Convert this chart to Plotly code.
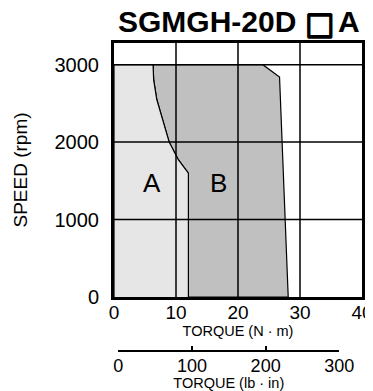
import plotly.graph_objects as go

# Region A boundary (torque N·m, speed rpm)
a_torque = [0, 0, 6.3, 6.4, 6.9, 7.7, 8.9, 10.0, 10.4, 12.0, 12.0]
a_speed = [0, 3000, 3000, 2800, 2550, 2330, 2000, 1830, 1770, 1600, 0]
# Region B right boundary
b_right_torque = [24.0, 26.7, 28.1]
b_right_speed = [3000, 2840, 0]

x_ticks = [0, 10, 20, 30, 40]
y_ticks = [0, 1000, 2000, 3000]
lb_ticks = [0, 100, 200, 300]

OFF = 8  # browser body margin
W, H = 373, 391 - OFF
L = 114 - OFF
T = 43 - OFF
R = W - (362 - OFF)
B = H - (350 - OFF)
pw = W - L - R
ph = H - T - B
def px2x(px):
    return (px - OFF - L) / pw
def py2y(py):
    return (H - B - (py - OFF)) / ph

fig = go.Figure()

curve_t = a_torque[2:]
curve_s = a_speed[2:]
b_poly_t = curve_t[::-1] + b_right_torque + [curve_t[-1]]
b_poly_s = curve_s[::-1] + b_right_speed + [curve_s[-1]]

fig.add_trace(go.Scatter(x=b_poly_t, y=b_poly_s, fill="toself", fillcolor="#c0c0c0",
                         mode="lines", line=dict(color="black", width=1.2), hoverinfo="skip",
                         showlegend=False))
fig.add_trace(go.Scatter(x=a_torque, y=a_speed, fill="toself", fillcolor="#e6e6e6",
                         mode="lines", line=dict(color="black", width=1.2), hoverinfo="skip",
                         showlegend=False))
# trace for the lb·in scale (own thin subplot at the bottom)
fig.add_trace(go.Scatter(x=[lb_ticks[0], lb_ticks[-1]], y=[None, None], xaxis="x2", yaxis="y2",
                         mode="lines", showlegend=False, hoverinfo="skip"))

ydom0 = py2y(297)

shapes = []
for xv in x_ticks[1:-1]:
    shapes.append(dict(type="line", xref="x", yref="y domain", x0=xv, x1=xv, y0=0, y1=1,
                       line=dict(color="black", width=1.5), layer="above"))
for yv in y_ticks[1:]:
    shapes.append(dict(type="line", xref="x domain", yref="y", x0=0, x1=1, y0=yv, y1=yv,
                       line=dict(color="black", width=1.5), layer="above"))

fig.update_layout(
    width=W, height=H, margin=dict(l=L, r=R, t=T, b=B, autoexpand=False),
    paper_bgcolor="white", plot_bgcolor="rgba(0,0,0,0)",
    font=dict(family="Liberation Sans, Arial, sans-serif", color="black"),
    shapes=shapes,
    xaxis=dict(range=[0, 40], tickvals=x_ticks, showgrid=False, zeroline=False, automargin=False,
               showline=True, linewidth=3, linecolor="black", mirror=True,
               ticks="", tickfont=dict(size=19), layer="above traces",
               ticklabeloverflow="allow", ticklabelstandoff=-4,
               title=dict(text="TORQUE (N · m)", font=dict(size=14.5), standoff=0)),
    yaxis=dict(range=[0, 3280], tickvals=y_ticks, showgrid=False, zeroline=False, automargin=False,
               domain=[ydom0, 1], ticklabelstandoff=8,
               showline=True, linewidth=3, linecolor="black", mirror=True,
               ticks="", tickfont=dict(size=20), layer="above traces",
               title=dict(text="SPEED (rpm)", font=dict(size=19), standoff=22)),
    xaxis2=dict(range=[0, 300], tickvals=lb_ticks, anchor="y2", automargin=False,
                domain=[px2x(118.3), px2x(339.3)], showgrid=False, zeroline=False,
                showline=True, linewidth=1.5, linecolor="black", ticks="inside",
                ticklen=4, tickwidth=1.5, tickcolor="black",
                tickfont=dict(size=18), ticklabelstandoff=-1, ticklabeloverflow="allow",
                title=dict(text="TORQUE (lb · in)", font=dict(size=14.5), standoff=0)),
    yaxis2=dict(domain=[0, 0.005], visible=False, range=[0, 1], automargin=False),
    annotations=[
        dict(text="A", x=6.2, y=1470, xref="x", yref="y", showarrow=False, font=dict(size=26)),
        dict(text="B", x=16.9, y=1470, xref="x", yref="y", showarrow=False, font=dict(size=26)),
        dict(text="<b>SGMGH-20D</b>", x=px2x(298), y=py2y(22), xref="paper", yref="paper",
             xanchor="right", yanchor="middle", showarrow=False, font=dict(size=30)),
        dict(text="□", x=px2x(319), y=py2y(23), xref="paper", yref="paper",
             xanchor="center", yanchor="middle", showarrow=False,
             font=dict(size=31, family="DejaVu Sans",
                       shadow="0.7px 0 0 black, -0.7px 0 0 black, 0 0.7px 0 black, 0 -0.7px 0 black")),
        dict(text="<b>A</b>", x=px2x(336), y=py2y(22), xref="paper", yref="paper",
             xanchor="left", yanchor="middle", showarrow=False, font=dict(size=30)),
    ],
)

fig.write_html("out.html")
